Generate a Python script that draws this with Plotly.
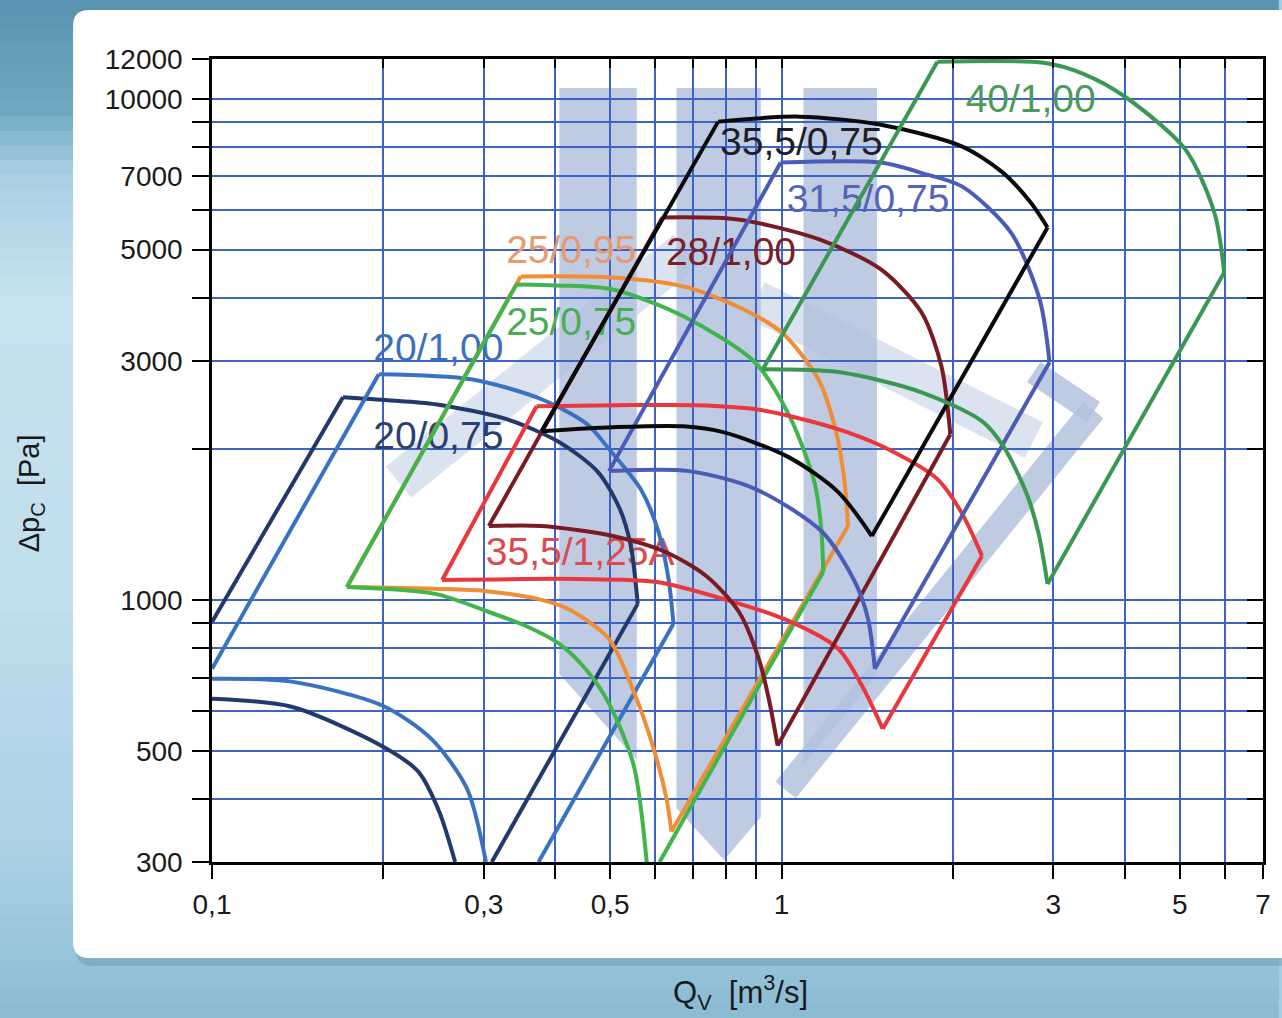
import numpy as np
import plotly.graph_objects as go

# ---------------- data (Q in m3/s, dp in Pa) ----------------
# each fan: left line | top curve | right line | bottom curve  (None separates segments)
f20_075_q = [0.1, 0.1698, None,
             0.1698, 0.2042, 0.2466, 0.3291, 0.4072, 0.4761, 0.520, 0.5436, 0.559, None,
             0.559, 0.3099, None,
             0.1, 0.1379, 0.1994, 0.2304, 0.2506, 0.2672]
f20_075_p = [904, 2537, None,
             2537, 2502, 2457, 2294, 2064, 1799, 1518, 1281, 982, None,
             982, 300, None,
             635, 612, 510, 454, 378, 300]

f20_100_q = [0.1, 0.1962, None,
             0.1962, 0.285, 0.3788, 0.4555, 0.4977, 0.5656, 0.6081, 0.6331, 0.6459, None,
             0.6459, 0.3743, None,
             0.1, 0.1379, 0.1994, 0.2427, 0.2804, 0.3026]
f20_100_p = [729, 2820, None,
             2820, 2755, 2514, 2242, 2000, 1664, 1366, 1101, 896, None,
             896, 300, None,
             696, 687, 615, 528, 420, 300]

f25_095_q = [0.1725, 0.3482, None,
             0.3482, 0.5056, 0.6723, 0.8349, 1.0, 1.1599, 1.2468, 1.288, 1.308, None,
             1.308, 0.6407, None,
             0.6407, 0.628, 0.5961, 0.5501, 0.4977, 0.4221, 0.3728, 0.3002, 0.2496, 0.1725]
f25_095_p = [1061, 4420, None,
             4420, 4400, 4222, 3853, 3419, 2755, 2161, 1742, 1404, None,
             1404, 345, None,
             345, 401, 505, 656, 836, 959, 1005, 1042, 1052, 1061]

f25_075_q = [0.5797, 0.5501, 0.4977, 0.4555, 0.4072, 0.3581, 0.3062, 0.2466, 0.1725, None,
             0.1725, 0.3426, None,
             0.3426, 0.404, 0.5056, 0.6723, 0.8974, 1.0325, 1.1416, 1.174, 1.1834, None,
             1.1834, 0.6106]
f25_075_p = [300, 467, 621, 722, 817, 884, 946, 1028, 1061, None,
             1061, 4261, None,
             4261, 4241, 4163, 3680, 2980, 2326, 1718, 1385, 1137, None,
             1137, 300]

f355_125_q = [0.2536, 0.3713, None,
              0.3713, 0.5139, 0.7084, 0.9, 1.054, 1.288, 1.536, 1.877, 2.067, 2.248, None,
              2.248, 1.505, None,
              1.505, 1.384, 1.257, 1.0285, 0.7895, 0.6033, 0.4377, 0.2536]
f355_125_p = [1096, 2435, None,
              2435, 2446, 2446, 2402, 2315, 2171, 2000, 1742, 1497, 1224, None,
              1224, 553, None,
              553, 674, 799, 908, 1005, 1086, 1101, 1096]

f28_100_q = [0.3062, 0.6179, None,
             0.6179, 0.8382, 1.1647, 1.494, 1.760, 1.908, 1.978, None,
             1.978, 0.9841, None,
             0.9841, 0.9494, 0.9119, 0.8417, 0.7373, 0.6254, 0.5056, 0.3788, 0.3062]
f28_100_p = [1404, 5794, None,
             5794, 5741, 5238, 4564, 3748, 2925, 2141, None,
             2141, 512, None,
             512, 635, 763, 946, 1116, 1246, 1341, 1404, 1404]

f315_075_q = [0.4977, 0.996, None,
              0.996, 1.494, 1.775, 2.076, 2.526, 2.838, 2.954, None,
              2.954, 1.458, None,
              1.458, 1.418, 1.345, 1.179, 0.9, 0.6887, 0.4977]
f315_075_p = [1807, 7456, None,
              7456, 7456, 7090, 6677, 5409, 3977, 2980, None,
              2980, 729, None,
              729, 917, 1086, 1366, 1664, 1807, 1807]

f355_075_q = [0.3788, 0.7738, None,
              0.7738, 1.075, 1.494, 2.076, 2.446, 2.737, 2.93, None,
              2.93, 1.44, None,
              1.44, 1.257, 1.0285, 0.7895, 0.6723, 0.5056, 0.3788]
f355_075_p = [2171, 9000, None,
              9000, 9208, 8872, 8025, 7121, 6206, 5534, None,
              5534, 1341, None,
              1341, 1641, 1927, 2161, 2220, 2211, 2171]

f40_100_q = [0.9267, 1.877, None,
             1.877, 2.884, 3.385, 4.008, 5.117, 5.75, 5.984, None,
             5.984, 2.93, None,
             2.93, 2.827, 2.694, 2.456, 2.248, 1.760, 1.267, 0.9267]
f40_100_p = [2885, 11850, None,
             11850, 11790, 11210, 10090, 7913, 5928, 4502, None,
             4502, 1076, None,
             1076, 1354, 1626, 2018, 2273, 2596, 2845, 2885]

label_text = ["40/1,00", "35,5/0,75", "31,5/0,75", "28/1,00", "25/0,95",
              "25/0,75", "20/1,00", "20/0,75", "35,5/1,25A"]
label_q = [2.737, 1.083, 1.418, 0.8149, 0.4272, 0.4272, 0.2496, 0.2496, 0.4429]
label_p = [9820, 8062, 6206, 4867, 4910, 3530, 3133, 2092, 1229]

x_tickvals = [0.1, 0.2, 0.3, 0.4, 0.5, 0.6, 0.7, 0.8, 0.9, 1, 2, 3, 4, 5, 6, 7]
x_ticktext = ["0,1", "", "0,3", "", "0,5", "", "", "", "", "1", "", "3", "", "5", "", "7"]
y_tickvals = [300, 400, 500, 600, 700, 800, 900, 1000, 2000, 3000, 4000, 5000,
              6000, 7000, 8000, 9000, 10000, 12000]
y_ticktext = ["300", "", "500", "", "", "", "", "1000", "", "3000", "", "5000",
              "", "7000", "", "", "10000", "12000"]

# ---------------- layout geometry ----------------
W, H = 1282, 1018
ML, MR, MT, MB = 212, 11, 59, 156
PW, PH = W - ML - MR, H - MT - MB


def pxx(px):
    return (px - ML) / PW


def pxy(py):
    return (H - MB - py) / PH


FONT = "Liberation Sans, Arial, Helvetica, sans-serif"

series = [
    (f20_075_q, f20_075_p, "#22396c"),
    (f20_100_q, f20_100_p, "#3a72c2"),
    (f25_095_q, f25_095_p, "#f08d35"),
    (f25_075_q, f25_075_p, "#3fb54b"),
    (f355_125_q, f355_125_p, "#e8383d"),
    (f28_100_q, f28_100_p, "#7a1b23"),
    (f315_075_q, f315_075_p, "#4a5cb6"),
    (f355_075_q, f355_075_p, "#0a0a0a"),
    (f40_100_q, f40_100_p, "#3a9852"),
]
label_colors = ["#4a9a5c", "#1e1e28", "#5465b8", "#7a1f28", "#e69a70",
                "#48ad55", "#3b6fbe", "#2a3f70", "#dc4a50"]

fig = go.Figure()

fig.add_trace(go.Scatter(
    x=label_q, y=label_p, mode="text", text=label_text,
    textfont=dict(family=FONT, size=39, color=label_colors),
    textposition="middle center", hoverinfo="skip", showlegend=False))

for q, p, c in series:
    fig.add_trace(go.Scatter(x=q, y=p, mode="lines",
                             line=dict(color=c, width=4, shape="spline", smoothing=0.8),
                             connectgaps=False, showlegend=False, hoverinfo="skip"))

# dummy trace for top / right axes
fig.add_trace(go.Scatter(x=[None], y=[None], xaxis="x2", yaxis="y2",
                         showlegend=False, hoverinfo="skip"))

# ---------------- background decoration ----------------
shapes = []


def hex2rgb(h):
    return tuple(int(h[i:i + 2], 16) for i in (1, 3, 5))


stops = [(0, "#5794b1"), (110, "#6ea8c2"), (175, "#a9cfe1"), (300, "#c7e2ef"),
         (600, "#c0deec"), (850, "#abd1e3"), (960, "#96c4d9"), (1018, "#8abbd2")]


def col_at(y):
    for (y0, c0), (y1, c1) in zip(stops[:-1], stops[1:]):
        if y0 <= y <= y1:
            t = (y - y0) / (y1 - y0)
            a, b = hex2rgb(c0), hex2rgb(c1)
            return "rgb(%d,%d,%d)" % tuple(round(a[i] + (b[i] - a[i]) * t) for i in range(3))
    return stops[-1][1]


N = 70
for i in range(N):
    y0 = i * H / N
    y1 = (i + 1) * H / N + 1
    shapes.append(dict(type="rect", xref="paper", yref="paper", layer="below",
                       x0=pxx(-5), x1=pxx(W + 5), y0=pxy(y0), y1=pxy(y1),
                       fillcolor=col_at((y0 + y1) / 2), line_width=0))


def rrect(x0, y0, x1, y1, r):
    X, Y = pxx, pxy
    return (f"M {X(x0 + r)},{Y(y0)} L {X(x1 - r)},{Y(y0)} Q {X(x1)},{Y(y0)} {X(x1)},{Y(y0 + r)} "
            f"L {X(x1)},{Y(y1 - r)} Q {X(x1)},{Y(y1)} {X(x1 - r)},{Y(y1)} L {X(x0 + r)},{Y(y1)} "
            f"Q {X(x0)},{Y(y1)} {X(x0)},{Y(y1 - r)} L {X(x0)},{Y(y0 + r)} "
            f"Q {X(x0)},{Y(y0)} {X(x0 + r)},{Y(y0)} Z")


def poly(pts):
    return "M " + " L ".join(f"{pxx(a)},{pxy(b)}" for a, b in pts) + " Z"


# panel shadow + white panel
shapes.append(dict(type="path", xref="paper", yref="paper", layer="below",
                   path=rrect(75, 14, 1310, 966, 16), fillcolor="rgba(60,100,130,0.22)", line_width=0))
shapes.append(dict(type="path", xref="paper", yref="paper", layer="below",
                   path=rrect(72, 10, 1310, 958, 16), fillcolor="white", line_width=0))

# watermark (logo)
WM = "#b3c2de"
for pts in [[(562, 88), (640, 88), (640, 760), (562, 674)],
            [(680, 88), (765, 88), (765, 817), (728, 860), (680, 808)],
            [(808, 88), (882, 88), (882, 675), (808, 765)]]:
    shapes.append(dict(type="path", xref="paper", yref="paper", layer="below",
                       path=poly(pts), fillcolor=WM, opacity=0.85, line_width=0))
for (a, b, c, d, w, o) in [(1100, 410, 790, 790, 26, 0.85),
                           (1100, 412, 1040, 372, 24, 0.85),
                           (400, 482, 690, 250, 40, 0.45),
                           (760, 300, 1040, 440, 40, 0.45)]:
    shapes.append(dict(type="line", xref="paper", yref="paper", layer="below",
                       x0=pxx(a), y0=pxy(b), x1=pxx(c), y1=pxy(d),
                       line=dict(color=WM, width=w), opacity=o))

annotations = [
    dict(text="Q<sub>V</sub>  [m<sup>3</sup>/s]", x=pxx(745), y=pxy(992), xref="paper", yref="paper",
         showarrow=False, xanchor="center", yanchor="middle",
         font=dict(family=FONT, size=31, color="#1a1a1a")),
    dict(text="Δp<sub>C</sub>  [Pa]", x=pxx(30), y=pxy(493), xref="paper", yref="paper",
         showarrow=False, xanchor="center", yanchor="middle", textangle=-90,
         font=dict(family=FONT, size=29, color="#1a1a1a")),
]

xr = [np.log10(0.1), np.log10(7)]
yr = [np.log10(300), np.log10(12000)]
tickfont = dict(family=FONT, size=28, color="#1a1a1a")
GRID = "#3e63c6"

fig.update_layout(
    width=W, height=H, autosize=False,
    margin=dict(l=ML, r=MR, t=MT, b=MB, pad=0),
    paper_bgcolor="#a6cde0", plot_bgcolor="rgba(0,0,0,0)",
    showlegend=False, shapes=shapes, annotations=annotations,
    xaxis=dict(type="log", range=xr, tickvals=x_tickvals, ticktext=x_ticktext,
               ticks="outside", ticklen=14, tickwidth=2, tickcolor="black",
               showline=True, linecolor="black", linewidth=2.5, mirror=False,
               showgrid=True, gridcolor=GRID, gridwidth=1.5, zeroline=False,
               tickfont=tickfont, ticklabelstandoff=2),
    yaxis=dict(type="log", range=yr, tickvals=y_tickvals, ticktext=y_ticktext,
               ticks="outside", ticklen=17, tickwidth=2, tickcolor="black",
               showline=True, linecolor="black", linewidth=2.5, mirror=False,
               showgrid=True, gridcolor=GRID, gridwidth=1.5, zeroline=False,
               tickfont=tickfont, ticklabelstandoff=4),
    xaxis2=dict(type="log", range=xr, overlaying="x", side="top", tickvals=x_tickvals,
                ticks="inside", ticklen=9, tickwidth=2, tickcolor="black",
                showticklabels=False, showline=True, linecolor="black", linewidth=2.5,
                showgrid=False, zeroline=False),
    yaxis2=dict(type="log", range=yr, overlaying="y", side="right", tickvals=y_tickvals,
                ticks="inside", ticklen=16, tickwidth=2, tickcolor="black",
                showticklabels=False, showline=True, linecolor="black", linewidth=2.5,
                showgrid=False, zeroline=False),
)

fig.write_html("out.html")
